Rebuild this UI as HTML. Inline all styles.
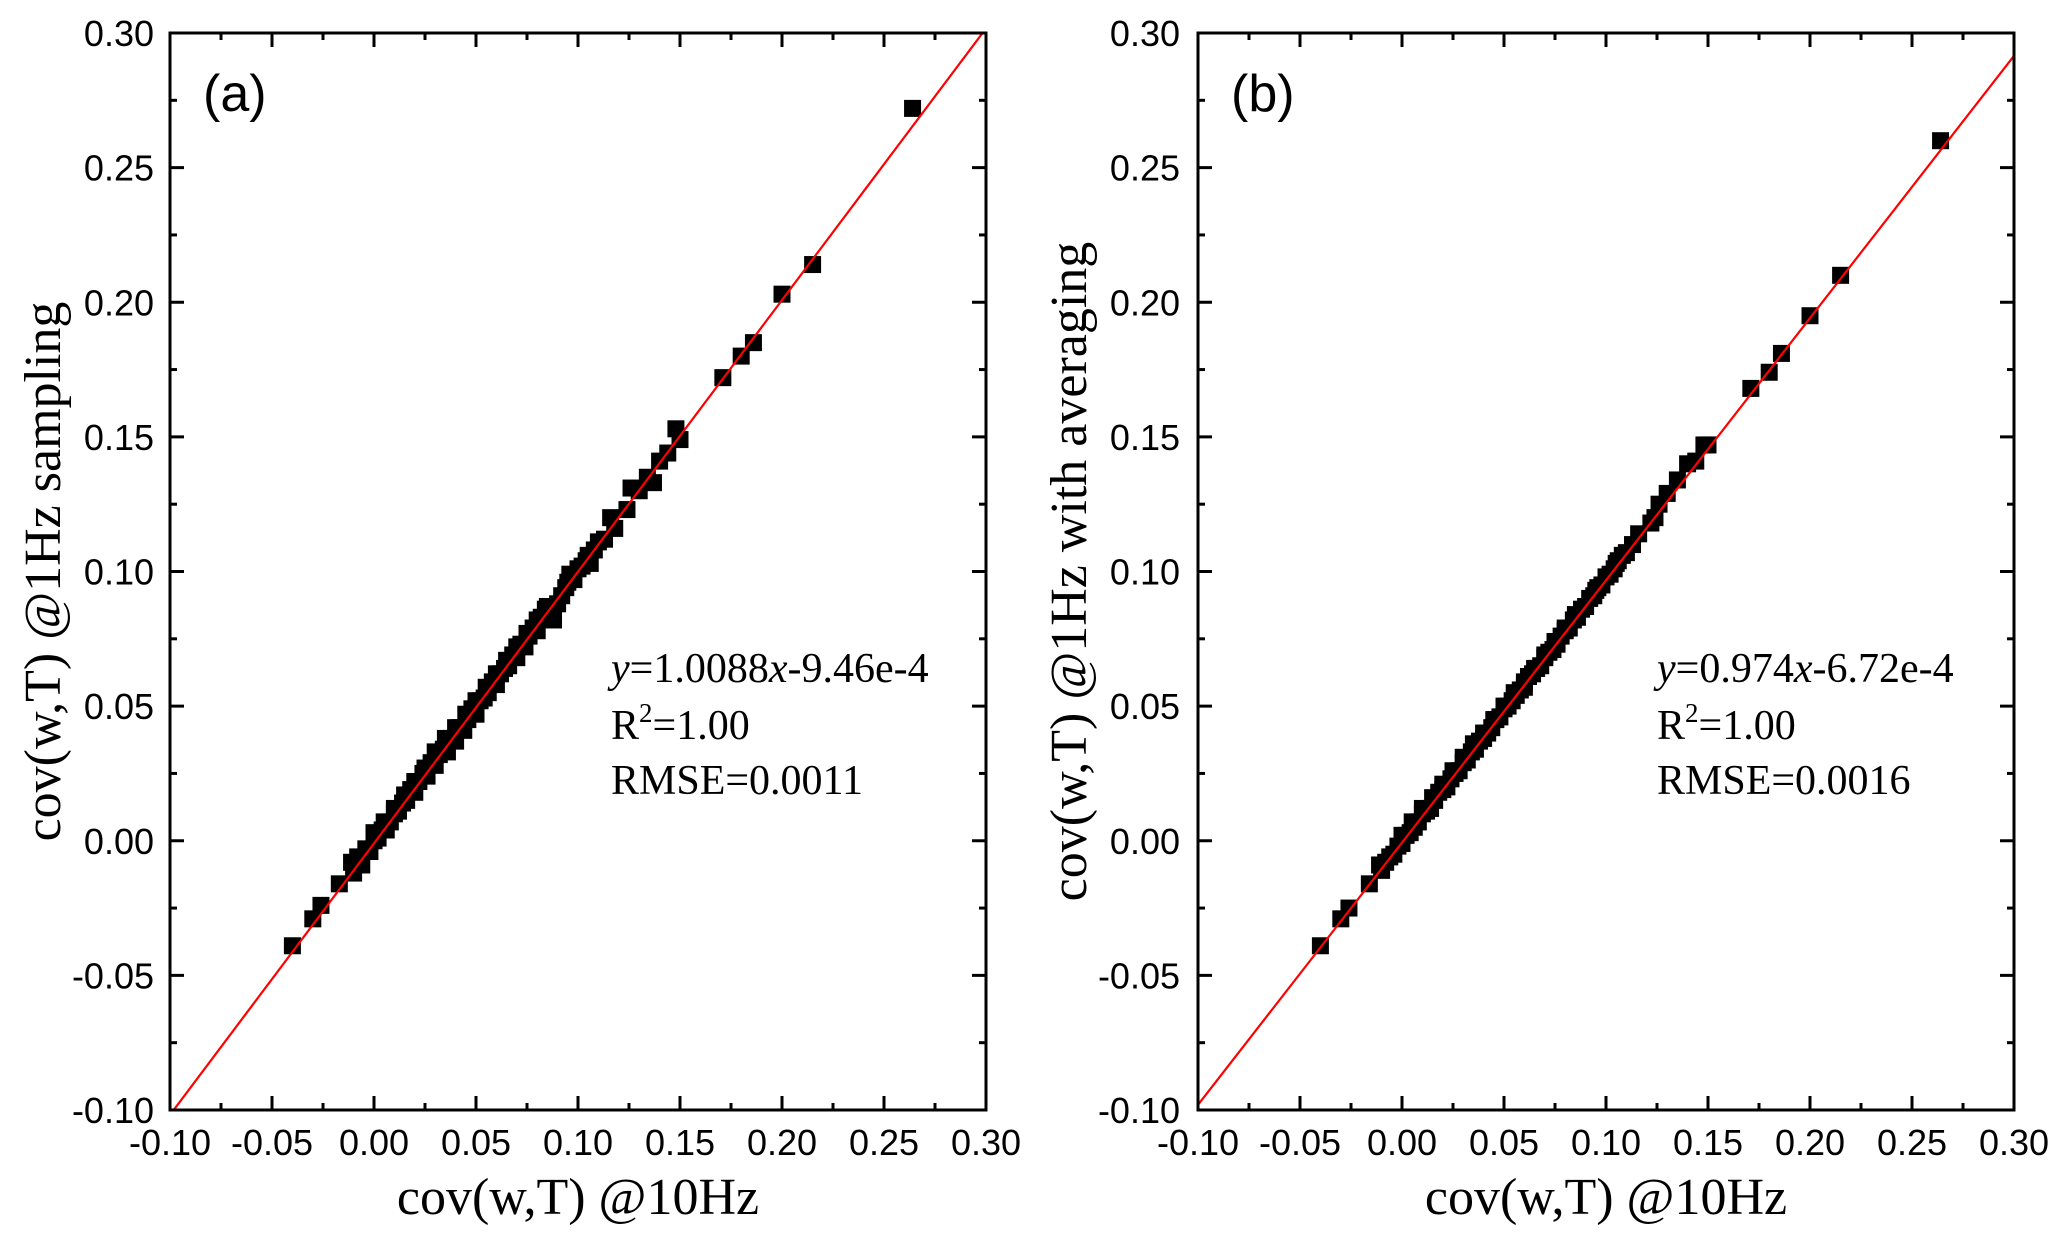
<!DOCTYPE html>
<html><head><meta charset="utf-8"><style>
body{margin:0;background:#fff}
svg{display:block}
.tk{font-family:"Liberation Sans",sans-serif;font-size:36px;fill:#000}
.ti{font-family:"Liberation Serif",serif;font-size:52px;fill:#000}
.an{font-family:"Liberation Serif",serif;font-size:42px;fill:#000}
.pl{font-family:"Liberation Sans",sans-serif;font-size:52px;fill:#000}
</style></head><body>
<svg id="fig" width="2067" height="1239" xmlns="http://www.w3.org/2000/svg"></svg>
<script>
const ticks=[-0.10,-0.05,0.00,0.05,0.10,0.15,0.20,0.25,0.30];
const tickLabels=["-0.10","-0.05","0.00","0.05","0.10","0.15","0.20","0.25","0.30"];
const axAx=[-0.040,-0.030,-0.026,-0.017,-0.011,-0.010,-0.008,-0.006,-0.004,-0.002,0.000,0.002,0.004,0.006,0.008,0.010,0.012,0.014,0.016,0.018,0.020,0.022,0.024,0.026,0.028,0.030,0.032,0.034,0.036,0.038,0.040,0.042,0.044,0.046,0.048,0.050,0.052,0.054,0.056,0.058,0.060,0.062,0.064,0.066,0.068,0.070,0.072,0.074,0.076,0.078,0.080,0.082,0.084,0.088,0.090,0.092,0.094,0.096,0.098,0.100,0.102,0.104,0.106,0.108,0.110,0.113,0.116,0.118,0.124,0.126,0.130,0.134,0.137,0.140,0.144,0.148,0.150,0.171,0.180,0.186,0.200,0.215,0.264,
0.000,0.005,0.010,0.015,0.020,0.025,0.030,0.035,0.040,0.045,0.050,0.055,0.060,0.065,0.070,0.075,0.080,0.085,0.095,0.105];
const axAy=[-0.039,-0.029,-0.024,-0.016,-0.008,-0.012,-0.006,-0.009,-0.003,-0.004,0.000,0.001,0.004,0.004,0.007,0.010,0.011,0.014,0.015,0.019,0.018,0.022,0.025,0.024,0.029,0.028,0.032,0.034,0.033,0.038,0.037,0.042,0.041,0.045,0.049,0.047,0.052,0.053,0.055,0.059,0.058,0.062,0.064,0.065,0.069,0.068,0.073,0.072,0.076,0.079,0.078,0.083,0.086,0.082,0.088,0.091,0.094,0.099,0.097,0.101,0.102,0.104,0.103,0.108,0.111,0.112,0.120,0.116,0.123,0.131,0.130,0.135,0.133,0.141,0.144,0.153,0.149,0.172,0.180,0.185,0.203,0.214,0.272,
0.003,0.007,0.012,0.017,0.022,0.027,0.033,0.038,0.042,0.047,0.052,0.057,0.062,0.067,0.072,0.077,0.082,0.087,0.096,0.106];
const bxAx=[-0.040,-0.030,-0.026,-0.016,-0.011,-0.010,-0.008,-0.006,-0.004,-0.002,0.000,0.002,0.004,0.006,0.008,0.010,0.012,0.014,0.016,0.018,0.020,0.022,0.024,0.026,0.028,0.030,0.032,0.034,0.036,0.038,0.040,0.042,0.044,0.046,0.048,0.050,0.052,0.054,0.056,0.058,0.060,0.062,0.064,0.066,0.068,0.070,0.072,0.074,0.076,0.078,0.080,0.082,0.084,0.086,0.088,0.090,0.092,0.094,0.096,0.098,0.100,0.102,0.104,0.106,0.108,0.110,0.113,0.116,0.122,0.124,0.126,0.130,0.135,0.140,0.144,0.148,0.150,0.171,0.180,0.186,0.200,0.215,0.264,
0.000,0.005,0.010,0.015,0.020,0.025,0.030,0.035,0.040,0.045,0.050,0.055,0.060,0.065,0.070,0.075,0.080,0.085,0.095,0.105];
const bxAy=[-0.039,-0.029,-0.025,-0.016,-0.009,-0.011,-0.008,-0.006,-0.005,-0.002,-0.001,0.002,0.003,0.005,0.007,0.010,0.011,0.012,0.015,0.018,0.019,0.020,0.023,0.025,0.026,0.029,0.030,0.033,0.034,0.037,0.038,0.040,0.042,0.045,0.046,0.049,0.050,0.052,0.054,0.056,0.057,0.061,0.062,0.064,0.065,0.068,0.070,0.071,0.073,0.076,0.078,0.079,0.082,0.083,0.086,0.087,0.090,0.091,0.094,0.095,0.098,0.099,0.101,0.104,0.106,0.107,0.110,0.114,0.118,0.120,0.125,0.129,0.134,0.140,0.141,0.147,0.147,0.168,0.174,0.181,0.195,0.210,0.260,
0.002,0.007,0.012,0.016,0.021,0.026,0.031,0.036,0.040,0.045,0.050,0.055,0.059,0.064,0.069,0.074,0.079,0.084,0.093,0.103];
const fitA=[1.0088,-9.46e-4], fitB=[0.974,-6.72e-4];
const NS="http://www.w3.org/2000/svg", svg=document.getElementById('fig');
function mk(t,a,p){const e=document.createElementNS(NS,t);for(const k in a)e.setAttribute(k,a[k]);(p||svg).appendChild(e);return e;}
function panel(id,L,R,T,B,xs,ys,fit,label,ytitle,ann,tlx,ytx,annx){
 const g=mk('g',{});
 
 
 const sx=v=>L+(v+0.1)/0.4*(R-L), sy=v=>B-(v+0.1)/0.4*(B-T);
 for(let i=0;i<ticks.length;i++){
  const v=ticks[i];
  if(i>0&&i<ticks.length-1){
   mk('line',{x1:sx(v),y1:B,x2:sx(v),y2:B-14,stroke:'#000','stroke-width':3},g);
   mk('line',{x1:sx(v),y1:T,x2:sx(v),y2:T+14,stroke:'#000','stroke-width':3},g);
   mk('line',{x1:L,y1:sy(v),x2:L+14,y2:sy(v),stroke:'#000','stroke-width':3},g);
   mk('line',{x1:R,y1:sy(v),x2:R-14,y2:sy(v),stroke:'#000','stroke-width':3},g);
  }
  if(i<ticks.length-1){const m=v+0.025;
   mk('line',{x1:sx(m),y1:B,x2:sx(m),y2:B-7,stroke:'#000','stroke-width':3},g);
   mk('line',{x1:sx(m),y1:T,x2:sx(m),y2:T+7,stroke:'#000','stroke-width':3},g);
   mk('line',{x1:L,y1:sy(m),x2:L+7,y2:sy(m),stroke:'#000','stroke-width':3},g);
   mk('line',{x1:R,y1:sy(m),x2:R-7,y2:sy(m),stroke:'#000','stroke-width':3},g);}
  const xt=mk('text',{x:sx(v),y:B+45,'text-anchor':'middle',class:'tk'},g);xt.textContent=tickLabels[i];
  
  
  const yt=mk('text',{x:tlx,y:sy(v)+13,'text-anchor':'end',class:'tk'},g);yt.textContent=tickLabels[i];
  
  
 }
 const cp=mk('clipPath',{id:'c'+id},g);mk('rect',{x:L,y:T,width:R-L,height:B-T},cp);
 for(let i=0;i<xs.length;i++){
  const r=mk('rect',{x:sx(xs[i])-8.5,y:sy(ys[i])-8.5,width:17,height:17,fill:'#000'},g);
  
  
 }
 const ln=mk('line',{x1:sx(-0.1),y1:sy(fit[0]*-0.1+fit[1]),x2:sx(0.3),y2:sy(fit[0]*0.3+fit[1]),stroke:'#f00','stroke-width':2.2,'clip-path':'url(#c'+id+')'},g);
 
 
 const fr=mk('rect',{x:L,y:T,width:R-L,height:B-T,fill:'none',stroke:'#000','stroke-width':3},g);
 
 
 const pl=mk('text',{x:L+33,y:T+78,class:'pl'},g);pl.textContent=label;
 
 
 const xt=mk('text',{x:(L+R)/2,y:1214,'text-anchor':'middle',class:'ti'},g);xt.textContent='cov(w,T) @10Hz';
 
 
 const yt=mk('text',{x:ytx,y:(T+B)/2,'text-anchor':'middle',class:'ti',transform:`rotate(-90 ${ytx} ${(T+B)/2})`},g);yt.textContent=ytitle;
 
 
 const a=mk('text',{x:annx,y:682,class:'an'},g);
 a.innerHTML='<tspan font-style="italic">y</tspan>='+ann[0]+'<tspan font-style="italic">x</tspan>'+ann[1];
 
 
 const r2=mk('text',{x:annx,y:739,class:'an'},g);r2.innerHTML='R<tspan font-size="27" dy="-17">2</tspan><tspan dy="17">=1.00</tspan>';
 
 
 const rm=mk('text',{x:annx,y:794,class:'an'},g);rm.textContent='RMSE='+ann[2];
 
 
}
panel('a',170,986,33,1110,axAx,axAy,fitA,'(a)','cov(w,T) @1Hz sampling',['1.0088','-9.46e-4','0.0011'],154,60,611);
panel('b',1198,2014,33,1110,bxAx,bxAy,fitB,'(b)','cov(w,T) @1Hz with averaging',['0.974','-6.72e-4','0.0016'],1180,1086,1657);
</script>
</body></html>
